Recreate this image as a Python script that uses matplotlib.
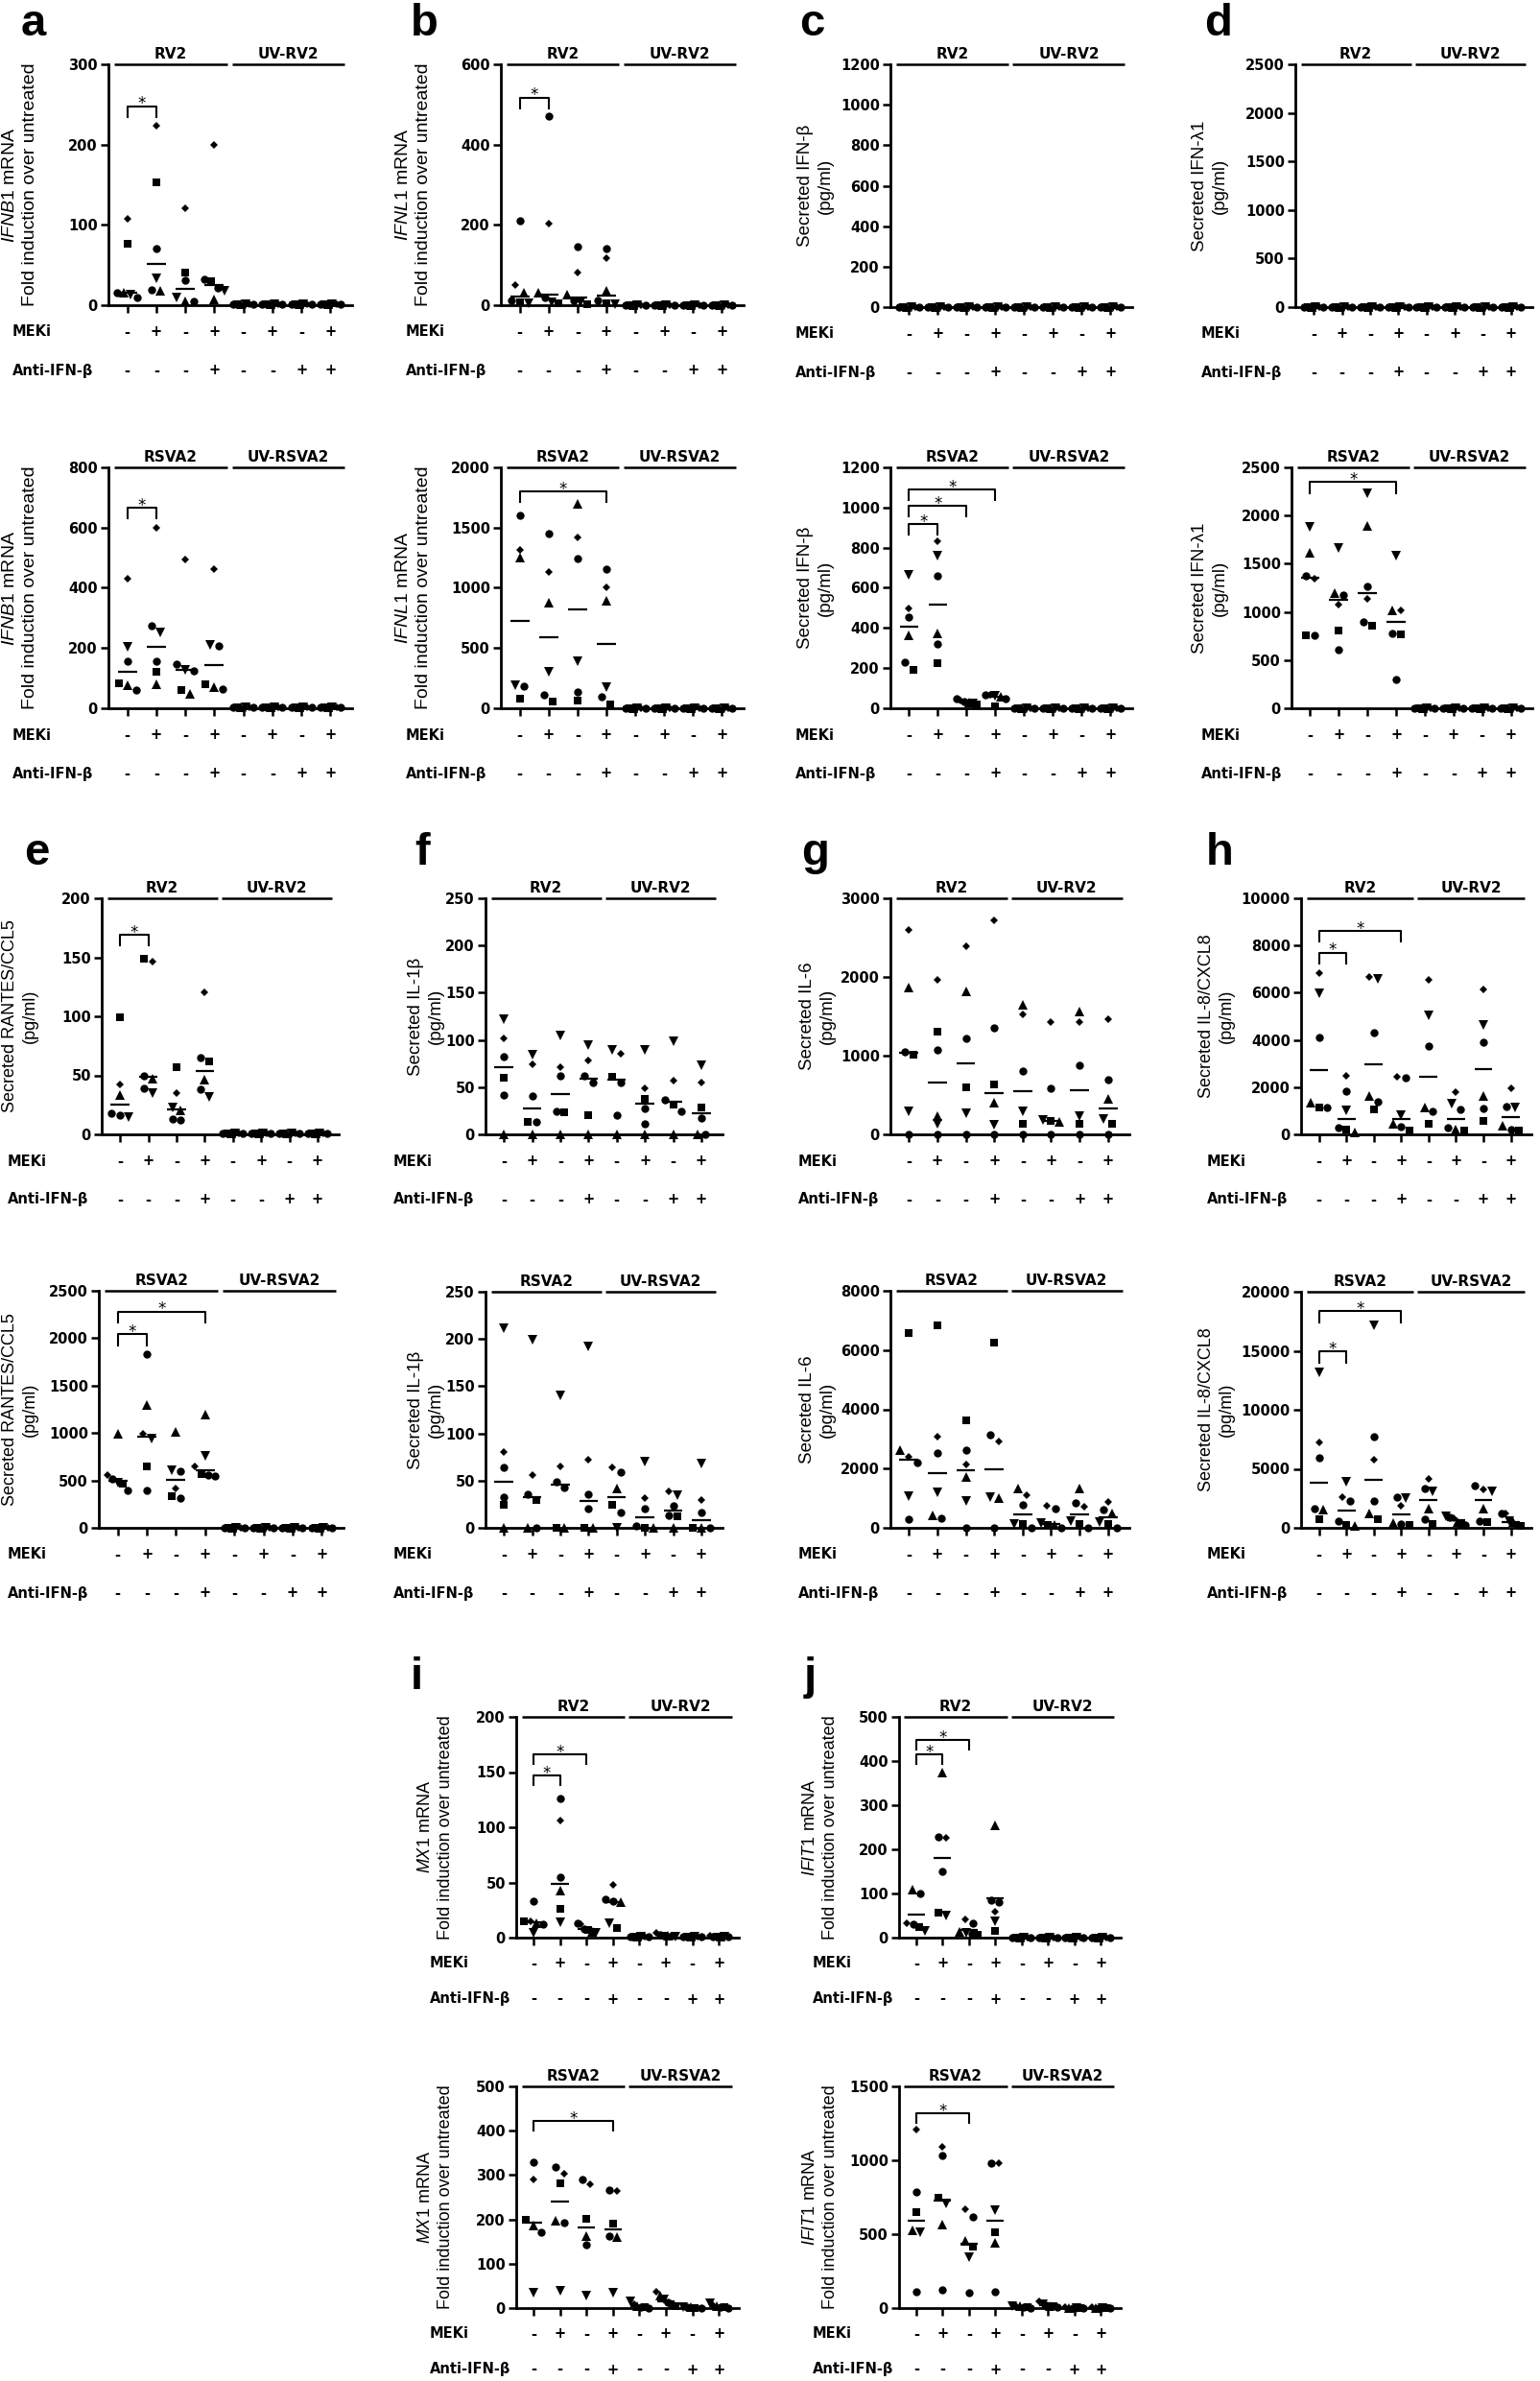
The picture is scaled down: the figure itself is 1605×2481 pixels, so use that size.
import numpy as np
import matplotlib
matplotlib.use('Agg')
import matplotlib.pyplot as plt
from matplotlib.transforms import ScaledTranslation

plt.rcParams['mathtext.fontset'] = 'custom'
plt.rcParams['mathtext.rm'] = 'Liberation Sans'
plt.rcParams['mathtext.it'] = 'Liberation Sans:italic'

W, H, DPI = 1606, 2481, 100

# ---------------- data ----------------
# each group: 6 donors [circle, square, tri-up, tri-down, diamond, circle2]
meki_row = ['-', '+', '-', '+', '-', '+', '-', '+']
anti_row = ['-', '-', '-', '+', '-', '-', '+', '+']
rv_groups = ['RV2', 'UV-RV2']
rsv_groups = ['RSVA2', 'UV-RSVA2']

ifnb1_rv2 = [[16, 77, 15, 13, 107, 10], [70, 153, 18, 33, 223, 19], [31, 41, 5, 10, 121, 5],
             [32, 30, 7, 18, 200, 21], [1, 1, 1, 1, 1, 1], [1, 1, 1, 1, 1, 1],
             [1, 1, 1, 1, 1, 1], [1, 1, 1, 1, 1, 1]]
ifnb1_rsv = [[157, 83, 78, 205, 430, 60], [274, 120, 80, 251, 600, 157], [147, 62, 48, 127, 495, 125],
             [208, 80, 70, 210, 462, 65], [2, 2, 2, 2, 2, 2], [2, 2, 2, 2, 2, 2],
             [2, 2, 2, 2, 2, 2], [2, 2, 2, 2, 2, 2]]
ifnl1_rv2 = [[211, 8, 32, 4, 50, 12], [470, 5, 32, 8, 204, 20], [147, 3, 26, 6, 82, 12],
             [141, 4, 36, 2, 117, 12], [1, 1, 1, 1, 1, 1], [1, 1, 1, 1, 1, 1],
             [1, 1, 1, 1, 1, 1], [1, 1, 1, 1, 1, 1]]
ifnl1_rsv = [[1599, 82, 1251, 194, 1315, 181], [1450, 53, 876, 305, 1131, 114],
             [1246, 66, 1700, 388, 1421, 135], [1153, 35, 890, 173, 1007, 96],
             [2, 2, 2, 2, 2, 2], [2, 2, 2, 2, 2, 2], [2, 2, 2, 2, 2, 2], [2, 2, 2, 2, 2, 2]]
ifnb_prot_rv2 = [[2, 2, 2, 2, 2, 2]] * 8
ifnb_prot_rsv = [[453, 190, 364, 665, 497, 228], [660, 223, 375, 760, 831, 320],
                 [49, 18, 30, 25, 40, 35], [68, 10, 55, 60, 66, 50],
                 [2, 2, 2, 2, 2, 2], [2, 2, 2, 2, 2, 2], [2, 2, 2, 2, 2, 2], [2, 2, 2, 2, 2, 2]]
ifnl_prot_rv2 = [[3, 3, 3, 3, 3, 3]] * 8
ifnl_prot_rsv = [[1370, 760, 1612, 1878, 1345, 760], [1171, 803, 1199, 1663, 1075, 611],
                 [1261, 860, 1889, 2234, 1131, 894], [780, 764, 1018, 1584, 1018, 294],
                 [3, 3, 3, 3, 3, 3], [3, 3, 3, 3, 3, 3], [3, 3, 3, 3, 3, 3], [3, 3, 3, 3, 3, 3]]
ccl5_rv2 = [[18, 99, 33, 15, 42, 16], [50, 149, 47, 35, 146, 39], [13, 57, 20, 23, 35, 12],
            [65, 62, 46, 32, 120, 38], [1, 1, 1, 1, 1, 1], [1, 1, 1, 1, 1, 1],
            [1, 1, 1, 1, 1, 1], [1, 1, 1, 1, 1, 1]]
ccl5_rsv = [[520, 470, 994, 480, 557, 390], [1828, 644, 1299, 940, 990, 391],
            [600, 330, 1017, 610, 420, 316], [557, 570, 1190, 764, 650, 546],
            [5, 5, 5, 5, 5, 5], [5, 5, 5, 5, 5, 5], [5, 5, 5, 5, 5, 5], [5, 5, 5, 5, 5, 5]]
il1b_rv2 = [[82, 60, 0, 122, 102, 42], [41, 13, 0, 84, 74, 13], [62, 23, 0, 105, 71, 24],
            [62, 20, 0, 95, 78, 55], [55, 61, 0, 89, 85, 20], [27, 38, 0, 89, 49, 11],
            [37, 32, 0, 99, 57, 24], [17, 28, 0, 73, 55, 0]]
il1b_rsv = [[64, 24, 0, 211, 80, 33], [36, 29, 0, 199, 56, 0], [49, 0, 0, 140, 65, 43],
            [36, 0, 0, 192, 72, 20], [59, 24, 42, 0, 64, 16], [20, 0, 0, 70, 32, 2],
            [23, 12, 0, 35, 39, 13], [16, 0, 0, 68, 29, 0]]
il6_rv2 = [[1051, 1016, 1866, 290, 2592, 0], [1078, 1306, 235, 131, 1963, 0],
           [1223, 594, 1811, 270, 2392, 0], [1355, 636, 408, 118, 2723, 0],
           [809, 138, 1645, 290, 1521, 0], [588, 173, 160, 180, 1431, 0],
           [878, 131, 1555, 235, 1431, 0], [691, 131, 456, 200, 1458, 0]]
il6_rsv = [[2200, 6565, 2611, 1067, 2391, 276], [2519, 6823, 423, 1195, 3071, 313],
           [2611, 3623, 1710, 919, 2152, 0], [3126, 6253, 1011, 1048, 2906, 0],
           [791, 120, 1324, 130, 1103, 0], [644, 110, 92, 150, 736, 0],
           [828, 129, 1324, 220, 700, 0], [607, 130, 497, 184, 883, 0]]
il8_rv2 = [[4101, 1129, 1359, 5967, 6843, 1129], [1820, 207, 100, 1014, 2465, 276],
           [4308, 1037, 1613, 6600, 6650, 1382], [2400, 161, 461, 806, 2450, 323],
           [3733, 438, 1129, 5046, 6544, 968], [1037, 161, 200, 1313, 1774, 276],
           [3917, 553, 1613, 4654, 6152, 1083], [1198, 161, 346, 1152, 1958, 207]]
il8_rsv = [[5959, 693, 1524, 13164, 7252, 1617], [2310, 231, 200, 3926, 2633, 554],
           [7714, 693, 1247, 17183, 5774, 2310], [2633, 231, 400, 2540, 1848, 323],
           [3372, 323, 1617, 3095, 4157, 693], [924, 231, 462, 1016, 831, 231],
           [3557, 462, 1617, 3095, 3233, 600], [1250, 138, 500, 554, 1200, 231]]
mx1_rv2 = [[33, 15, 13, 4, 15, 12], [126, 26, 43, 14, 106, 55], [13, 7, 5, 4, 12, 8],
           [35, 9, 32, 13, 48, 33], [1, 1, 1, 1, 1, 1], [3, 2, 2, 1, 4, 2],
           [1, 1, 1, 1, 1, 1], [1, 1, 1, 1, 2, 1]]
mx1_rsv = [[330, 200, 186, 34, 289, 172], [319, 282, 198, 39, 302, 193],
           [289, 201, 162, 29, 279, 142], [267, 191, 160, 34, 263, 162],
           [3, 2, 5, 15, 8, 1], [12, 5, 29, 20, 36, 8], [2, 1, 2, 3, 1, 1], [3, 2, 4, 10, 6, 1]]
ifit1_rv2 = [[101, 25, 108, 15, 32, 30], [228, 56, 374, 51, 226, 150], [32, 6, 12, 10, 42, 8],
             [85, 15, 254, 37, 59, 80], [1, 1, 1, 1, 1, 1], [1, 1, 1, 1, 1, 1],
             [1, 1, 1, 1, 1, 1], [1, 1, 1, 1, 1, 1]]
ifit1_rsv = [[785, 647, 529, 515, 1206, 112], [1035, 750, 568, 706, 1088, 126],
             [618, 418, 456, 344, 668, 103], [979, 515, 441, 662, 979, 112],
             [8, 5, 10, 15, 12, 3], [20, 10, 15, 25, 44, 8], [2, 1, 3, 2, 4, 1], [2, 1, 3, 2, 4, 1]]

# ---------------- styles / layout ----------------
donor_markers = ['o', 's', '^', 'v', 'D', 'o']
donor_sizes = [6.0, 5.6, 6.5, 6.5, 4.4, 6.0]
BOLD = dict(family='DejaVu Sans', fontweight='bold')

fig = plt.figure(figsize=(W / DPI, H / DPI), dpi=DPI)
fig.patch.set_facecolor('white')

lab_fold = 'Fold induction over untreated'
panels = [
    # data, ymax, ystep, box(l,t,r,b), groups, ylabel, ylabel_x, label_fs, row_x, brackets, stat
    (ifnb1_rv2, 300, 100, (113, 67, 367, 318), rv_groups, '$\\mathit{IFNB1}$ mRNA\n' + lab_fold, 21, 14, 13, [(0, 1, 248)], 'median'),
    (ifnb1_rsv, 800, 200, (113, 487, 367, 738), rsv_groups, '$\\mathit{IFNB1}$ mRNA\n' + lab_fold, 21, 14, 13, [(0, 1, 667)], 'median'),
    (ifnl1_rv2, 600, 200, (522, 67, 775, 318), rv_groups, '$\\mathit{IFNL1}$ mRNA\n' + lab_fold, 431, 14, 423, [(0, 1, 517)], 'median'),
    (ifnl1_rsv, 2000, 500, (522, 487, 775, 738), rsv_groups, '$\\mathit{IFNL1}$ mRNA\n' + lab_fold, 431, 14, 423, [(0, 3, 1801)], 'median'),
    (ifnb_prot_rv2, 1200, 200, (928, 67, 1180, 320), rv_groups, 'Secreted IFN-β\n(pg/ml)', 850, 13.5, 829, [], 'median'),
    (ifnb_prot_rsv, 1200, 200, (928, 487, 1180, 738), rsv_groups, 'Secreted IFN-β\n(pg/ml)', 850, 13.5, 829,
     [(0, 1, 918), (0, 2, 1010), (0, 3, 1091)], 'median'),
    (ifnl_prot_rv2, 2500, 500, (1350, 67, 1597, 320), rv_groups, 'Secreted IFN-λ1\n(pg/ml)', 1261, 13.5, 1252, [], 'median'),
    (ifnl_prot_rsv, 2500, 500, (1346, 487, 1597, 738), rsv_groups, 'Secreted IFN-λ1\n(pg/ml)', 1261, 13.5, 1252, [(0, 3, 2347)], 'median'),
    (ccl5_rv2, 200, 50, (106, 936, 353, 1182), rv_groups, 'Secreted RANTES/CCL5\n(pg/ml)', 21, 13, 8, [(0, 1, 169)], 'median'),
    (ccl5_rsv, 2500, 500, (103, 1345, 358, 1592), rsv_groups, 'Secreted RANTES/CCL5\n(pg/ml)', 21, 13, 8,
     [(0, 1, 2040), (0, 3, 2282)], 'median'),
    (il1b_rv2, 250, 50, (506, 936, 753, 1182), rv_groups, 'Secreted IL-1β\n(pg/ml)', 444, 13.5, 410, [], 'median'),
    (il1b_rsv, 250, 50, (506, 1346, 753, 1592), rsv_groups, 'Secreted IL-1β\n(pg/ml)', 444, 13.5, 410, [], 'median'),
    (il6_rv2, 3000, 1000, (928, 936, 1177, 1182), rv_groups, 'Secreted IL-6\n(pg/ml)', 852, 13.5, 832, [], 'median'),
    (il6_rsv, 8000, 2000, (928, 1345, 1177, 1592), rsv_groups, 'Secreted IL-6\n(pg/ml)', 852, 13.5, 832, [], 'median'),
    (il8_rv2, 10000, 2000, (1356, 936, 1596, 1182), rv_groups, 'Secreted IL-8/CXCL8\n(pg/ml)', 1268, 13, 1258,
     [(0, 1, 7695), (0, 3, 8617)], 'median'),
    (il8_rsv, 20000, 5000, (1356, 1346, 1596, 1592), rsv_groups, 'Secreted IL-8/CXCL8\n(pg/ml)', 1268, 13, 1258,
     [(0, 1, 14919), (0, 3, 18337)], 'median'),
    (mx1_rv2, 200, 50, (538, 1789, 770, 2019), rv_groups, '$\\mathit{MX1}$ mRNA\n' + lab_fold, 454, 13, 448,
     [(0, 1, 147), (0, 2, 166)], 'median'),
    (mx1_rsv, 500, 100, (538, 2174, 770, 2405), rsv_groups, '$\\mathit{MX1}$ mRNA\n' + lab_fold, 454, 13, 448,
     [(0, 3, 422)], 'median'),
    (ifit1_rv2, 500, 100, (937, 1789, 1168, 2019), rv_groups, '$\\mathit{IFIT1}$ mRNA\n' + lab_fold, 855, 13, 847,
     [(0, 1, 415), (0, 2, 448)], 'mean'),
    (ifit1_rsv, 1500, 500, (937, 2174, 1168, 2405), rsv_groups, '$\\mathit{IFIT1}$ mRNA\n' + lab_fold, 855, 13, 847,
     [(0, 2, 1318)], 'median'),
]

letters = [('a', 22, 37), ('b', 428, 37), ('c', 833, 37), ('d', 1255, 37),
           ('e', 25, 901), ('f', 432, 901), ('g', 835, 901), ('h', 1257, 901),
           ('i', 428, 1760), ('j', 838, 1760)]


def swarm_offsets(vals, px_per_val, thr_px=8.0):
    vals = np.asarray(vals, float)
    order = list(np.argsort(-vals, kind='stable'))
    offs = np.zeros(len(vals))
    clusters, cur = [], [order[0]]
    for a, b in zip(order[:-1], order[1:]):
        if (vals[a] - vals[b]) * px_per_val < thr_px:
            cur.append(b)
        else:
            clusters.append(cur)
            cur = [b]
    clusters.append(cur)
    for c in clusters:
        n = len(c)
        if n == 1:
            continue
        step = min(0.3, 0.7 / (n - 1))
        for k, idx in enumerate(c):
            offs[idx] = (k - (n - 1) / 2) * step
    return offs


XL = (-0.65, 7.75)
for (data, ymax, ystep, box, groups, ylab, ylx, lfs, rowx, brackets, stat) in panels:
    l, t, r, b = box
    ax = fig.add_axes([l / W, 1 - b / H, (r - l) / W, (b - t) / H])
    ax.set_xlim(*XL)
    ax.set_ylim(0, ymax)
    ax.patch.set_alpha(0)
    for s in ['top', 'right']:
        ax.spines[s].set_visible(False)
    for s in ['left', 'bottom']:
        ax.spines[s].set_linewidth(2.0)
    ax.set_xticks(range(8))
    ax.set_xticklabels([])
    ax.tick_params(axis='x', length=6, width=1.8)
    ax.set_yticks(np.arange(0, ymax + ystep / 2, ystep))
    ax.tick_params(axis='y', length=6, width=1.8, pad=2)
    ax.set_yticklabels([f'{int(v)}' for v in np.arange(0, ymax + ystep / 2, ystep)],
                       fontsize=10.5, **BOLD)

    px_per_val = (b - t) / ymax
    for g, vals in enumerate(data):
        offs = swarm_offsets(vals, px_per_val)
        for k, v in enumerate(vals):
            ax.plot(g + offs[k], v, marker=donor_markers[k], ms=donor_sizes[k], color='k',
                    ls='none', clip_on=False, zorder=5, mew=0)
        c = np.median(vals) if stat == 'median' else np.mean(vals)
        ax.plot([g - 0.33, g + 0.33], [c, c], color='k', lw=1.6, solid_capstyle='butt', zorder=4)

    # group bars at top
    for (x0, x1), name in zip([(-0.45, 3.45), (3.6, 7.5)], groups):
        ax.plot([x0, x1], [ymax, ymax], color='k', lw=1.8, clip_on=False, solid_capstyle='butt')
        ax.annotate(name, xy=((x0 + x1) / 2, ymax), xytext=(0, 2), textcoords='offset points',
                    ha='center', va='bottom', fontsize=11, **BOLD)

    # significance brackets
    d = 0.045 * ymax
    for g1, g2, hgt in brackets:
        ax.plot([g1, g1, g2, g2], [hgt - d, hgt, hgt, hgt - d], color='k', lw=1.5, clip_on=False)
        ax.annotate('*', xy=((g1 + g2) / 2, hgt), xytext=(0, -2), textcoords='offset points',
                    ha='center', va='baseline', fontsize=12, family='DejaVu Sans')

    # treatment rows
    dy1, dy2 = (27, 64) if t > 1700 else (28, 68)
    for dy, row, name in [(dy1, meki_row, 'MEKi'), (dy2, anti_row, 'Anti-IFN-β')]:
        trans = ax.get_xaxis_transform() + ScaledTranslation(0, -dy / DPI, fig.dpi_scale_trans)
        for g, sgn in enumerate(row):
            ax.text(g, 0, sgn, transform=trans, ha='center', va='center', fontsize=10.5,
                    clip_on=False, **BOLD)
        fig.text(rowx / W, 1 - (b + dy) / H, name, ha='left', va='center', fontsize=10.5, **BOLD)

    # y label
    fig.text(ylx / W, 1 - ((t + b) / 2) / H, ylab, rotation=90, ha='center', va='center',
             fontsize=lfs, family='Liberation Sans', linespacing=1.25, multialignment='center')

for ch, x, y in letters:
    fig.text(x / W, 1 - y / H, ch, ha='left', va='baseline', fontsize=34, fontweight='bold',
             family='Liberation Sans')

fig.savefig('out.png', dpi=DPI, facecolor='white')
